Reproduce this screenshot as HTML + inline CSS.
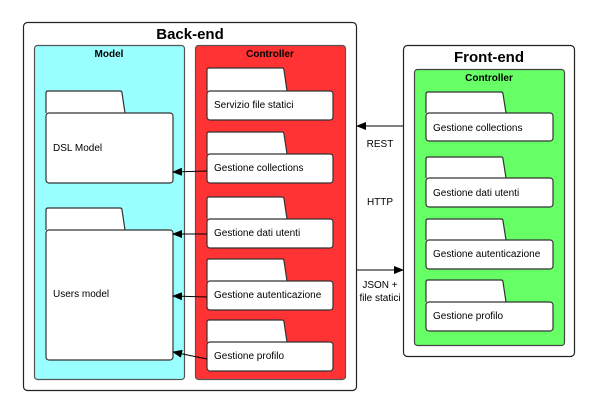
<!DOCTYPE html>
<html><head><meta charset="utf-8"><style>
html,body{margin:0;padding:0;background:#fff;width:600px;height:415px;overflow:hidden}
svg{display:block}
text{font-family:"Liberation Sans",Arial,sans-serif;fill:#000}
.t{font-size:10px}
.p{fill:#fff;stroke:#333;stroke-width:1.2}
</style></head><body>
<svg width="600" height="415" viewBox="0 0 600 415">
<defs><marker id="a" markerWidth="10" markerHeight="8" refX="9" refY="4" orient="auto" markerUnits="userSpaceOnUse"><path d="M0,0 L10,4 L0,8 z" fill="#000"/></marker></defs>
<!-- Back-end -->
<rect x="23.5" y="22.5" width="333" height="368" rx="4" fill="#fff" stroke="#222" stroke-width="1.2"/>
<text x="190" y="39" font-size="15" font-weight="bold" text-anchor="middle">Back-end</text>
<rect x="34.5" y="45.5" width="150" height="334" rx="3" fill="#99ffff" stroke="#555" stroke-width="1.2"/>
<text x="109" y="57" font-size="10" font-weight="bold" text-anchor="middle">Model</text>
<rect x="195.5" y="45.5" width="150" height="334" rx="3" fill="#ff3333" stroke="#555" stroke-width="1.2"/>
<text x="270" y="57" font-size="10" font-weight="bold" text-anchor="middle">Controller</text>

<!-- Model packages -->
<path class="p" d="M46,113 L46,93 Q46,91 48,91 L120,91 Q122,91 122,93 L125,113"/>
<rect class="p" x="46" y="113" width="127" height="70" rx="3"/>
<text class="t" x="53" y="151">DSL Model</text>
<path class="p" d="M46,230 L46,210 Q46,208 48,208 L120,208 Q122,208 122,210 L125,230"/>
<rect class="p" x="46" y="230" width="127" height="130" rx="3"/>
<text class="t" x="53" y="297">Users model</text>

<!-- Backend controller packages -->
<g>
<path class="p" d="M207,91 L207,70 Q207,68 209,68 L282,68 Q284,68 284,70 L287,91"/>
<rect class="p" x="207" y="91" width="126" height="29" rx="3"/>
<text class="t" x="214" y="108">Servizio file statici</text>
<path class="p" d="M207,154 L207,134 Q207,132 209,132 L282,132 Q284,132 284,134 L287,154"/>
<rect class="p" x="207" y="154" width="126" height="29" rx="3"/>
<text class="t" x="214" y="171">Gestione collections</text>
<path class="p" d="M207,219 L207,199 Q207,197 209,197 L282,197 Q284,197 284,199 L287,219"/>
<rect class="p" x="207" y="219" width="126" height="29" rx="3"/>
<text class="t" x="214" y="236">Gestione dati utenti</text>
<path class="p" d="M207,281 L207,261 Q207,259 209,259 L282,259 Q284,259 284,261 L287,281"/>
<rect class="p" x="207" y="281" width="126" height="29" rx="3"/>
<text class="t" x="214" y="298">Gestione autenticazione</text>
<path class="p" d="M207,342 L207,322 Q207,320 209,320 L282,320 Q284,320 284,322 L287,342"/>
<rect class="p" x="207" y="342" width="126" height="29" rx="3"/>
<text class="t" x="214" y="359">Gestione profilo</text>
</g>

<!-- internal arrows -->
<g stroke="#000" stroke-width="1" marker-end="url(#a)">
<line x1="207" y1="171" x2="173" y2="172"/>
<line x1="207" y1="234" x2="173" y2="234"/>
<line x1="207" y1="297" x2="173" y2="296"/>
<line x1="207" y1="359" x2="173" y2="352"/>
</g>

<!-- Front-end -->
<rect x="403.5" y="45.5" width="171" height="311" rx="4" fill="#fff" stroke="#222" stroke-width="1.2"/>
<text x="489" y="62" font-size="15" font-weight="bold" text-anchor="middle">Front-end</text>
<rect x="414.5" y="69.5" width="150" height="276" rx="3" fill="#66ff66" stroke="#444" stroke-width="1.2"/>
<text x="489" y="81" font-size="10" font-weight="bold" text-anchor="middle">Controller</text>
<path class="p" d="M426,113 L426,94 Q426,92 428,92 L501,92 Q503,92 503,94 L506,113"/>
<rect class="p" x="426" y="113" width="127" height="28" rx="3"/>
<text class="t" x="433" y="131">Gestione collections</text>
<path class="p" d="M426,178 L426,159 Q426,157 428,157 L501,157 Q503,157 503,159 L506,178"/>
<rect class="p" x="426" y="178" width="127" height="29" rx="3"/>
<text class="t" x="433" y="196">Gestione dati utenti</text>
<path class="p" d="M426,240 L426,221 Q426,219 428,219 L501,219 Q503,219 503,221 L506,240"/>
<rect class="p" x="426" y="240" width="127" height="29" rx="3"/>
<text class="t" x="433" y="257">Gestione autenticazione</text>
<path class="p" d="M426,302 L426,282 Q426,280 428,280 L501,280 Q503,280 503,282 L506,302"/>
<rect class="p" x="426" y="302" width="127" height="29" rx="3"/>
<text class="t" x="433" y="319">Gestione profilo</text>

<!-- between arrows -->
<g stroke="#000" stroke-width="1" marker-end="url(#a)">
<line x1="403" y1="126" x2="357" y2="126"/>
<line x1="357" y1="270" x2="403" y2="270"/>
</g>
<text class="t" x="380" y="147" text-anchor="middle">REST</text>
<text class="t" x="380" y="205" text-anchor="middle">HTTP</text>
<text class="t" x="380" y="288" text-anchor="middle">JSON +</text>
<text class="t" x="380" y="301" text-anchor="middle">file statici</text>
</svg>
</body></html>
